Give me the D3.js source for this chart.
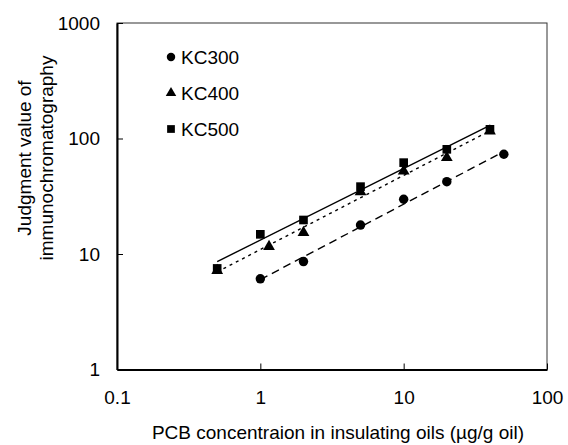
<!DOCTYPE html>
<html>
<head>
<meta charset="utf-8">
<script src="https://cdn.jsdelivr.net/npm/d3@7"></script>
<style>
  body { margin: 0; background: #fff; }
  text { font-family: Arial, "Liberation Sans", sans-serif; fill: #000; }
</style>
</head>
<body>
<script>
const w = 568;
const h = 445;

// Data
const series_names = ["KC300", "KC400", "KC500"];
const kc300_x = [1, 2, 5, 10, 20, 50];
const kc300_y = [6.1, 8.6, 17.8, 29.8, 42.3, 73];
const kc400_x = [0.5, 1.15, 2, 5, 10, 20, 40];
const kc400_y = [7.2, 11.6, 15.3, 34.6, 52.3, 68.2, 116];
const kc500_x = [0.5, 1, 2, 5, 10, 20, 40];
const kc500_y = [7.5, 14.8, 19.7, 38.3, 61.8, 80.6, 120];
const x_ticks = [0.1, 1, 10, 100];
const y_ticks = [1, 10, 100, 1000];

const series = [
    {name: series_names[0], xs: kc300_x, ys: kc300_y, shape: d3.symbolCircle, size: 70, dash: "8,5"},
    {name: series_names[1], xs: kc400_x, ys: kc400_y, shape: d3.symbolTriangle, size: 60, dash: "3,4"},
    {name: series_names[2], xs: kc500_x, ys: kc500_y, shape: d3.symbolSquare, size: 75, dash: null}
];

////  Canvas  ////
const svg = d3.select("body").append("svg").attr("width", w).attr("height", h);

const m_left = 117, m_right = 547, m_top = 23, m_bottom = 369.5;

const x = d3.scaleLog().domain([0.1, 100]).range([m_left, m_right]);
const y = d3.scaleLog().domain([1, 1000]).range([m_bottom, m_top]);

// frame (top/right thin)
svg.append("rect")
    .attr("x", m_left).attr("y", m_top)
    .attr("width", m_right - m_left).attr("height", m_bottom - m_top)
    .attr("fill", "none").attr("stroke", "#333").attr("stroke-width", 1);

////  Axes  ////
const xAxis = svg.append("g")
    .attr("transform", `translate(0,${m_bottom})`)
    .call(d3.axisBottom(x).tickValues(x_ticks).tickSizeInner(-6).tickSizeOuter(0)
        .tickPadding(21).tickFormat(d => d));
const yAxis = svg.append("g")
    .attr("transform", `translate(${m_left},0)`)
    .call(d3.axisLeft(y).tickValues(y_ticks).tickSizeInner(-6).tickSizeOuter(0)
        .tickPadding(17).tickFormat(d => d));

[xAxis, yAxis].forEach(g => {
    g.select(".domain").attr("stroke", "#000").attr("stroke-width", 2);
    g.selectAll(".tick line").attr("stroke", "#000").attr("stroke-width", 1);
    g.selectAll(".tick text").attr("font-size", "19px").attr("font-family", "Arial, 'Liberation Sans', sans-serif");
});

////  Power trend lines (least squares in log space)  ////
function powerFit(xs, ys) {
    const lx = xs.map(Math.log10), ly = ys.map(Math.log10);
    const mx = d3.mean(lx), my = d3.mean(ly);
    const b = d3.sum(lx, (v, i) => (v - mx) * (ly[i] - my)) / d3.sum(lx, v => (v - mx) * (v - mx));
    const a = my - b * mx;
    return v => Math.pow(10, a + b * Math.log10(v));
}

const line = d3.line().x(d => x(d[0])).y(d => y(d[1]));

series.forEach(s => {
    const f = powerFit(s.xs, s.ys);
    const ends = d3.extent(s.xs);
    svg.append("path")
        .datum(ends.map(v => [v, f(v)]))
        .attr("d", line)
        .attr("fill", "none")
        .attr("stroke", "#000")
        .attr("stroke-width", 1.4)
        .attr("stroke-dasharray", s.dash);
});

////  Markers  ////
series.forEach(s => {
    svg.append("g").selectAll("path")
        .data(s.xs.map((v, i) => [v, s.ys[i]]))
        .enter()
        .append("path")
        .attr("d", d3.symbol().type(s.shape).size(s.size))
        .attr("transform", d => `translate(${x(d[0])},${y(d[1])})`)
        .attr("fill", "#000");
});

////  Legend  ////
const legend = svg.selectAll("g.legend")
    .data(series)
    .enter()
    .append("g")
    .attr("class", "legend")
    .attr("transform", (d, i) => `translate(171,${57 + i * 36})`);
legend.append("path")
    .attr("d", d => d3.symbol().type(d.shape).size(d.size * 0.8)())
    .attr("fill", "#000");
legend.append("text")
    .attr("x", 10)
    .attr("dy", "0.36em")
    .attr("font-size", "19px")
    .text(d => d.name);

////  Titles  ////
svg.append("text")
    .attr("x", 338)
    .attr("y", 439)
    .attr("text-anchor", "middle")
    .attr("font-size", "19px")
    .text("PCB concentraion in insulating oils (µg/g oil)");

const ytitle = svg.append("text")
    .attr("transform", "translate(0,158) rotate(-90)")
    .attr("text-anchor", "middle")
    .attr("font-size", "19px");
ytitle.append("tspan").attr("x", 0).attr("y", 31).text("Judgment value of");
ytitle.append("tspan").attr("x", 0).attr("y", 53).text("immunochromatography");
</script>
</body>
</html>
